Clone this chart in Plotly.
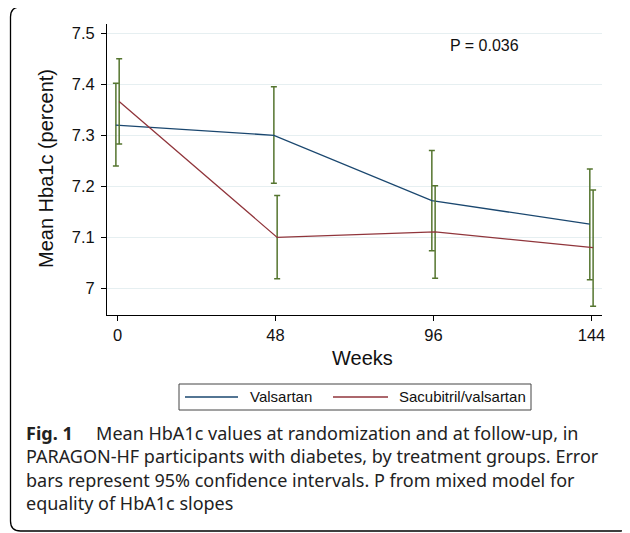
import plotly.graph_objects as go

# ---- data ----
weeks = [0, 48, 96, 144]
valsartan_mean = [7.320, 7.300, 7.172, 7.126]
valsartan_lo = [7.240, 7.206, 7.074, 7.017]
valsartan_hi = [7.402, 7.395, 7.270, 7.234]
sacubitril_mean = [7.366, 7.100, 7.111, 7.080]
sacubitril_lo = [7.283, 7.019, 7.020, 6.965]
sacubitril_hi = [7.450, 7.182, 7.201, 7.193]
y_ticks = [7.0, 7.1, 7.2, 7.3, 7.4, 7.5]
y_tick_labels = ["7", "7.1", "7.2", "7.3", "7.4", "7.5"]
x_ticks = [0, 48, 96, 144]
series_names = ["Valsartan", "Sacubitril/valsartan"]
p_text = "P = 0.036"

# ---- style ----
PAGE_OFF = 8  # browser body margin
W, H = 630 - PAGE_OFF, 533 - PAGE_OFF
ML, MT = 107 - PAGE_OFF, 24 - PAGE_OFF
PW, PH = 495, 291
MR = W - ML - PW
MB = H - MT - PH
BLUE = "#1a476f"
RED = "#90353b"
GREEN = "#55752f"
GRID = "#e6eff1"
AX_FONT = "Liberation Sans, Arial, sans-serif"
CAP_FONT = "Noto Sans, Open Sans, sans-serif"
OFFSET = 0.5  # small horizontal dodge between groups (weeks)


def px_x(p):
    return (p - PAGE_OFF - ML) / PW


def px_y(p):
    return (MT + PH - (p - PAGE_OFF)) / PH


fig = go.Figure()

for name, mean, lo, hi, col, dx in [
    (series_names[0], valsartan_mean, valsartan_lo, valsartan_hi, BLUE, -OFFSET),
    (series_names[1], sacubitril_mean, sacubitril_lo, sacubitril_hi, RED, OFFSET),
]:
    fig.add_trace(go.Scatter(
        x=[w + dx for w in weeks],
        y=mean,
        mode="lines",
        name=name,
        line=dict(color=col, width=1.3),
        error_y=dict(
            type="data",
            symmetric=False,
            array=[h - m for h, m in zip(hi, mean)],
            arrayminus=[m - l for m, l in zip(mean, lo)],
            color=GREEN,
            thickness=1.5,
            width=3,
        ),
        showlegend=False,
    ))

fig.update_layout(
    width=W, height=H,
    margin=dict(l=ML, r=MR, t=MT, b=MB, pad=0),
    paper_bgcolor="white",
    plot_bgcolor="white",
    font=dict(family=AX_FONT, color="#111111", size=16.5),
    xaxis=dict(
        range=[-3.2, 147.2],
        tickvals=x_ticks,
        ticktext=[str(t) for t in x_ticks],
        ticks="outside", ticklen=5, tickcolor="black", tickwidth=1,
        showline=True, linecolor="black", linewidth=1,
        showgrid=False, zeroline=False,
        tickfont=dict(size=16.5, family=AX_FONT, color="#111111"),
    ),
    yaxis=dict(
        range=[6.948, 7.518],
        tickvals=y_ticks,
        ticktext=y_tick_labels,
        ticks="outside", ticklen=5, tickcolor="black", tickwidth=1,
        showline=True, linecolor="black", linewidth=1,
        showgrid=True, gridcolor=GRID, gridwidth=1,
        zeroline=False,
        ticklabelstandoff=3,
        tickfont=dict(size=16.5, family=AX_FONT, color="#111111"),
    ),
)

annotations = [
    dict(text="Mean Hba1c (percent)", x=px_x(46), y=px_y(169), xref="paper", yref="paper",
         textangle=-90, showarrow=False, xanchor="center", yanchor="middle",
         font=dict(size=20, family=AX_FONT, color="#111111")),
    dict(text="Weeks", x=px_x(362.5), y=px_y(358), xref="paper", yref="paper",
         showarrow=False, xanchor="center", yanchor="middle",
         font=dict(size=20, family=AX_FONT, color="#111111")),
    dict(text=p_text, x=px_x(448), y=px_y(45.5), xref="paper", yref="paper",
         showarrow=False, xanchor="left", yanchor="middle",
         font=dict(size=16, family=AX_FONT, color="#111111")),
    dict(text=series_names[0], x=px_x(248), y=px_y(397), xref="paper", yref="paper",
         showarrow=False, xanchor="left", yanchor="middle",
         font=dict(size=15, family=AX_FONT, color="#111111")),
    dict(text=series_names[1], x=px_x(397), y=px_y(397), xref="paper", yref="paper",
         showarrow=False, xanchor="left", yanchor="middle",
         font=dict(size=15, family=AX_FONT, color="#111111")),
    dict(text="<b>Fig. 1</b>\u00a0\u00a0\u00a0\u00a0 Mean HbA1c values at randomization and at follow-up, in<br>"
              "PARAGON-HF participants with diabetes, by treatment groups. Error<br>"
              "bars represent 95% confidence intervals. P from mixed model for<br>"
              "equality of HbA1c slopes",
         x=px_x(24), y=px_y(419), xref="paper", yref="paper",
         showarrow=False, xanchor="left", yanchor="top", align="left",
         font=dict(size=18, family=CAP_FONT, color="#222222")),
]
fig.update_layout(annotations=annotations)

# frame with rounded corners
x0, x1 = px_x(10.5), px_x(629)
yt, yb = px_y(7), px_y(531)
rx, ry = 10 / PW, 10 / PH
path = (f"M {x0+rx},{yt} L {x1-rx},{yt} Q {x1},{yt} {x1},{yt-ry} "
        f"L {x1},{yb+ry} Q {x1},{yb} {x1-rx},{yb} L {x0+rx},{yb} "
        f"Q {x0},{yb} {x0},{yb+ry} L {x0},{yt-ry} Q {x0},{yt} {x0+rx},{yt} Z")
shapes = [
    dict(type="path", path=path, xref="paper", yref="paper",
         line=dict(color="black", width=1.3), fillcolor="rgba(0,0,0,0)", layer="below"),
    # legend box
    dict(type="rect", x0=px_x(179), x1=px_x(531), y0=px_y(410), y1=px_y(384),
         xref="paper", yref="paper", line=dict(color="#444444", width=1)),
    dict(type="line", x0=px_x(185), x1=px_x(238), y0=px_y(397), y1=px_y(397),
         xref="paper", yref="paper", line=dict(color=BLUE, width=1.3)),
    dict(type="line", x0=px_x(333), x1=px_x(388), y0=px_y(397), y1=px_y(397),
         xref="paper", yref="paper", line=dict(color=RED, width=1.3)),
]
fig.update_layout(shapes=shapes)

fig.write_html("out.html")
